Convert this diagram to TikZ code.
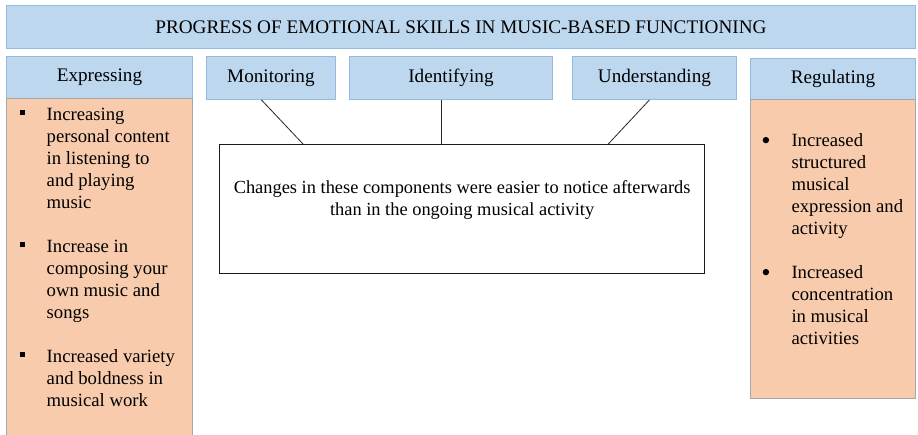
\documentclass[tikz,border=0pt]{standalone}
\usepackage{fontspec}
\setmainfont{Liberation Serif}
\usetikzlibrary{positioning}
\definecolor{hdrblue}{HTML}{BDD7EE}
\definecolor{hdrline}{HTML}{95BADF}
\definecolor{bodyorange}{HTML}{F8CBAD}
\definecolor{bodyline}{HTML}{A6A6A6}
\newcommand{\sqbul}{\rule[5.5pt]{5pt}{5pt}}
\newcommand{\rdbul}{\tikz[baseline={(0pt,-6pt)}]\fill (0pt,0pt) circle (3.2pt);}

\begin{document}
\begin{tikzpicture}[x=1pt, y=-1pt, font=\fontsize{18.7}{22}\selectfont,
	hdr/.style={draw=hdrline, fill=hdrblue, line width=0.9pt, inner sep=0pt, anchor=north west, font=\fontsize{19.2}{22}\selectfont},
	body/.style={draw=bodyline, fill=bodyorange, line width=0.9pt, inner sep=0pt, anchor=north west},
	chgbox/.style={draw=black!90, line width=1.3pt, inner sep=0pt, anchor=north west},
	conn/.style={draw=black!85, line width=0.8pt},
	txt/.style={anchor=north west, inner sep=0pt}]
			\useasboundingbox (0,0) rectangle (918,434);
			
			%%%%% HEADERS %%%%%
			\node[hdr, minimum width=909, minimum height=43] (title) at (6,5) {PROGRESS OF EMOTIONAL SKILLS IN MUSIC-BASED FUNCTIONING};
			\node[hdr, minimum width=186, minimum height=42] (expr) at (6,56) {Expressing};
			\node[hdr, minimum width=129, minimum height=43] (mon) at (206,56) {Monitoring};
			\node[hdr, minimum width=203, minimum height=43] (ident) at (349,56) {Identifying};
			\node[hdr, minimum width=164, minimum height=43] (und) at (572,56) {Understanding};
			\node[hdr, minimum width=165, minimum height=41] (reg) at (750,58) {Regulating};
			
			%%%%% BODIES %%%%%
			\node[body, minimum width=186, minimum height=345] (exprbody) at (6,98) {};
			\node[body, minimum width=165, minimum height=299] (regbody) at (750,99) {};
			
			\node[txt] (exprtxt) at (19.5,105) {\begin{tabular}{@{}p{27pt}@{}l@{}}
				\sqbul & Increasing\\
				& personal content\\
				& in listening to\\
				& and playing\\
				& music\\
				& \\
				\sqbul & Increase in\\
				& composing your\\
				& own music and\\
				& songs\\
				& \\
				\sqbul & Increased variety\\
				& and boldness in\\
				& musical work
			\end{tabular}};
			
			\node[txt] (regtxt) at (762.5,130.5) {\begin{tabular}{@{}p{28.8pt}@{}l@{}}
				\rdbul & Increased\\
				& structured\\
				& musical\\
				& expression and\\
				& activity\\
				& \\
				\rdbul & Increased\\
				& concentration\\
				& in musical\\
				& activities
			\end{tabular}};
			
			%%%%% CENTRE %%%%%
			\node[chgbox, minimum width=485, minimum height=129] (chg) at (219,144) {};
			\node[align=center, font=\fontsize{18.4}{22}\selectfont] (chgtxt) at ([yshift=9.5]chg.center) {Changes in these components were easier to notice afterwards\\than in the ongoing musical activity};
			
			\draw[conn] ([xshift=-9.5]mon.south) -- ([xshift=84]chg.north west);
			\draw[conn] ([xshift=-9.5]ident.south) -- ([xshift=-9.5]ident.south |- chg.north);
			\draw[conn] ([xshift=-5]und.south) -- ([xshift=-97]chg.north east);
			
		\end{tikzpicture}
\end{document}
